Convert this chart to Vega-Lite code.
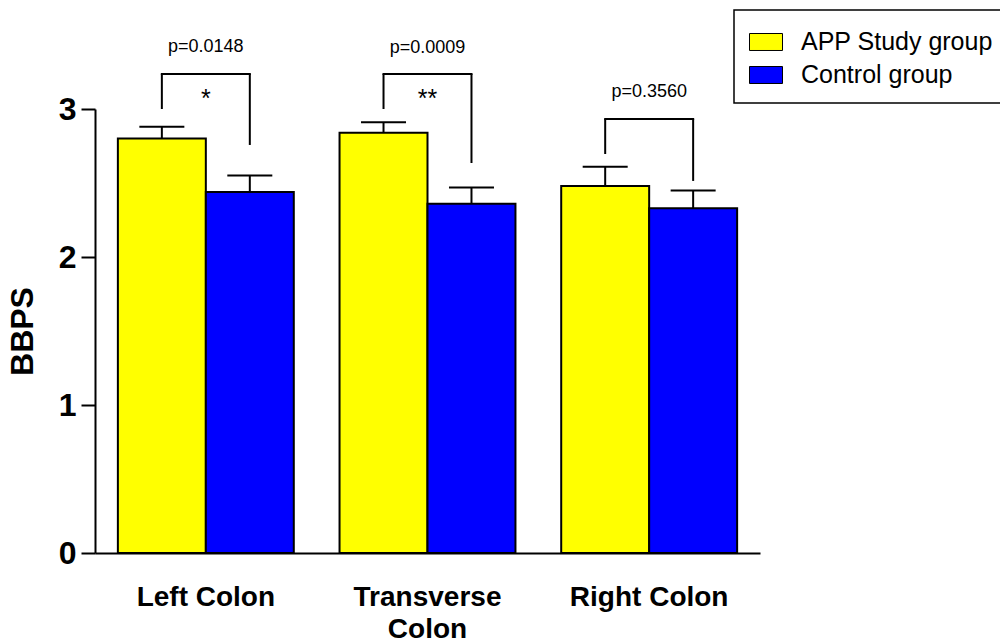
{
  "$schema": "https://vega.github.io/schema/vega-lite/v6.json",
  "width": 665,
  "height": 444,
  "autosize": {"type": "none"},
  "padding": {"left": 95, "top": 109, "right": 240, "bottom": 89},
  "datasets": {
    "bars": [
      {"region": "Left Colon", "group": "APP Study group", "mean": 2.80, "upper": 2.88},
      {"region": "Left Colon", "group": "Control group", "mean": 2.44, "upper": 2.55},
      {"region": "Transverse Colon", "group": "APP Study group", "mean": 2.84, "upper": 2.91},
      {"region": "Transverse Colon", "group": "Control group", "mean": 2.36, "upper": 2.47},
      {"region": "Right Colon", "group": "APP Study group", "mean": 2.48, "upper": 2.61},
      {"region": "Right Colon", "group": "Control group", "mean": 2.33, "upper": 2.45}
    ],
    "legs": [
      {"region": "Left Colon", "group": "APP Study group", "bottom": 3.0, "top": 3.236},
      {"region": "Left Colon", "group": "Control group", "bottom": 2.757, "top": 3.236},
      {"region": "Transverse Colon", "group": "APP Study group", "bottom": 3.0, "top": 3.236},
      {"region": "Transverse Colon", "group": "Control group", "bottom": 2.635, "top": 3.236},
      {"region": "Right Colon", "group": "APP Study group", "bottom": 2.696, "top": 2.932},
      {"region": "Right Colon", "group": "Control group", "bottom": 2.514, "top": 2.932}
    ],
    "brackets": [
      {"region": "Left Colon", "top": 3.236, "pY": 3.419, "p": "p=0.0148", "star": "*", "starY": 3.07},
      {"region": "Transverse Colon", "top": 3.236, "pY": 3.41, "p": "p=0.0009", "star": "**", "starY": 3.07},
      {"region": "Right Colon", "top": 2.932, "pY": 3.115, "p": "p=0.3560", "star": "", "starY": 3.07}
    ]
  },
  "encoding": {
    "x": {
      "field": "region",
      "type": "nominal",
      "sort": ["Left Colon", "Transverse Colon", "Right Colon"],
      "scale": {"paddingInner": 0, "paddingOuter": 0},
      "title": null,
      "axis": {
        "ticks": false,
        "tickSize": 0,
        "labelPadding": 30,
        "labelFontSize": 28,
        "labelFontWeight": "bold",
        "labelLineHeight": 32,
        "labelAngle": 0,
        "labelLimit": 400,
        "labelExpr": "datum.label == 'Transverse Colon' ? ['Transverse', 'Colon'] : datum.label",
        "encode": {
          "labels": {
            "update": {
              "x": {"scale": "x", "field": "value", "band": 0.5, "offset": {"signal": "datum.value == 'Left Colon' ? -13 : (datum.value == 'Transverse Colon' ? -5 : 7)"}}
            }
          }
        }
      }
    }
  },
  "layer": [
    {
      "data": {"name": "bars"},
      "mark": {"type": "bar", "stroke": "black", "strokeWidth": 2},
      "encoding": {
        "xOffset": {
          "field": "group",
          "type": "nominal",
          "sort": ["APP Study group", "Control group"],
          "scale": {"paddingInner": 0, "paddingOuter": 0.26}
        },
        "y": {
          "field": "mean",
          "type": "quantitative",
          "title": "BBPS",
          "scale": {"domain": [0, 3], "nice": false, "zero": true},
          "axis": {
            "values": [0, 1, 2, 3],
            "format": "d",
            "tickSize": 14,
            "labelPadding": 5,
            "labelFontSize": 32,
            "labelFontWeight": "bold",
            "titleFontSize": 32,
            "titleFontWeight": "bold",
            "titlePadding": 19
          }
        },
        "color": {
          "field": "group",
          "type": "nominal",
          "scale": {"domain": ["APP Study group", "Control group"], "range": ["#ffff00", "#0000ff"]},
          "legend": {
            "orient": "none",
            "legendX": 639,
            "legendY": -99,
            "title": null,
            "padding": 15,
            "strokeColor": "black",
            "fillColor": "white",
            "symbolType": "M-1,-0.515H1V0.515H-1Z",
            "symbolSize": 1089,
            "symbolStrokeColor": "black",
            "symbolStrokeWidth": 1,
            "symbolOpacity": 1,
            "labelFontSize": 25,
            "labelOffset": 18,
            "labelLimit": 400,
            "labelColor": "black",
            "rowPadding": 3,
            "encode": {"legend": {"update": {"strokeWidth": {"value": 1.5}}}}
          }
        }
      }
    },
    {
      "data": {"name": "bars"},
      "mark": {"type": "rule", "color": "black", "strokeWidth": 2},
      "encoding": {
        "xOffset": {"field": "group", "type": "nominal", "sort": ["APP Study group", "Control group"]},
        "y": {"field": "mean", "type": "quantitative", "title": "BBPS"},
        "y2": {"field": "upper"}
      }
    },
    {
      "data": {"name": "bars"},
      "mark": {"type": "tick", "color": "black", "size": 45, "thickness": 2, "opacity": 1},
      "encoding": {
        "xOffset": {"field": "group", "type": "nominal", "sort": ["APP Study group", "Control group"]},
        "y": {"field": "upper", "type": "quantitative", "title": "BBPS"}
      }
    },
    {
      "data": {"name": "legs"},
      "mark": {"type": "rule", "color": "black", "strokeWidth": 2},
      "encoding": {
        "xOffset": {"field": "group", "type": "nominal", "sort": ["APP Study group", "Control group"]},
        "y": {"field": "bottom", "type": "quantitative", "title": "BBPS"},
        "y2": {"field": "top"}
      }
    },
    {
      "data": {"name": "brackets"},
      "mark": {"type": "tick", "color": "black", "size": 90, "thickness": 2, "opacity": 1},
      "encoding": {
        "y": {"field": "top", "type": "quantitative", "title": "BBPS"}
      }
    },
    {
      "data": {"name": "brackets"},
      "mark": {"type": "text", "fontSize": 18, "font": "Liberation Sans", "color": "black", "baseline": "middle"},
      "encoding": {
        "y": {"field": "pY", "type": "quantitative", "title": "BBPS"},
        "text": {"field": "p"}
      }
    },
    {
      "data": {"name": "brackets"},
      "mark": {"type": "text", "fontSize": 25, "font": "Liberation Sans", "color": "black", "baseline": "middle"},
      "encoding": {
        "y": {"field": "starY", "type": "quantitative", "title": "BBPS"},
        "text": {"field": "star"}
      }
    }
  ],
  "config": {
    "view": {"stroke": null},
    "font": "Liberation Sans",
    "axis": {
      "domainColor": "black",
      "domainWidth": 2,
      "tickColor": "black",
      "tickWidth": 2,
      "labelColor": "black",
      "titleColor": "black",
      "grid": false,
      "labelFont": "Liberation Sans",
      "titleFont": "Liberation Sans"
    },
    "legend": {"labelFont": "Liberation Sans"}
  }
}
